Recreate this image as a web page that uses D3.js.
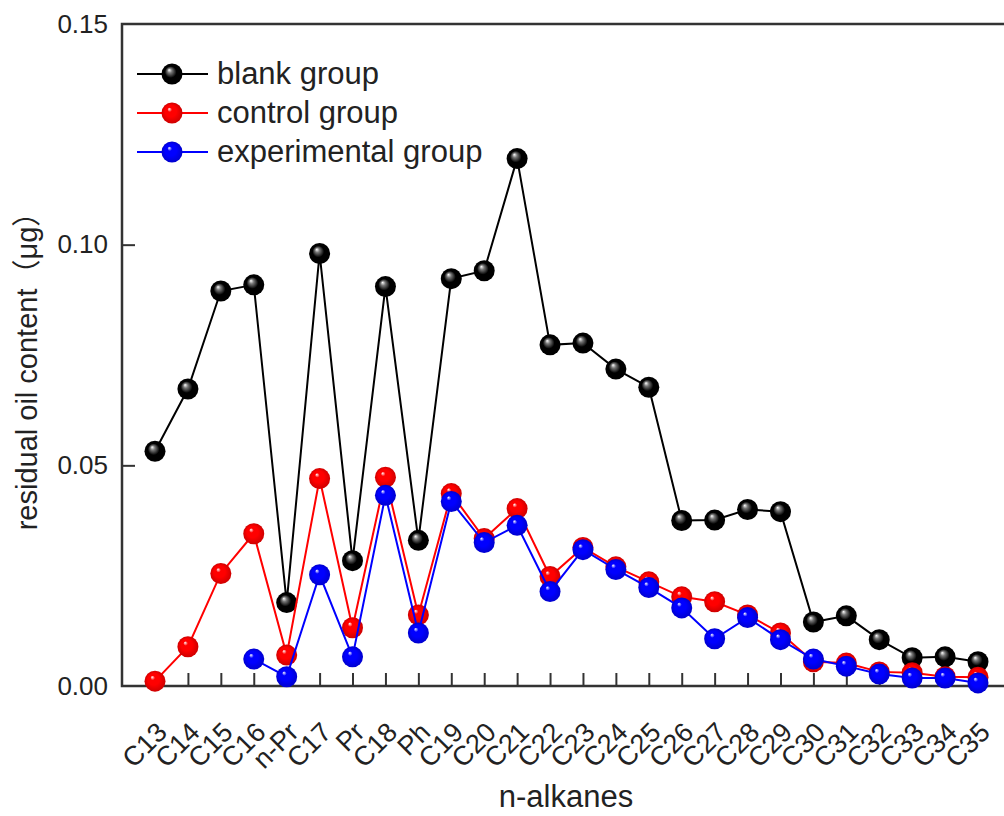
<!DOCTYPE html>
<html>
<head>
<meta charset="utf-8">
<script src="https://cdn.jsdelivr.net/npm/d3@7"></script>
<style>
  body { margin: 0; background: #fff; }
  text { font-family: "Liberation Sans", Arial, sans-serif; fill: #222; }
</style>
</head>
<body>
<svg id="chart" width="1004" height="816"></svg>
<script>
var categories = ["C13","C14","C15","C16","n-Pr","C17","Pr","C18","Ph","C19","C20","C21","C22","C23","C24","C25","C26","C27","C28","C29","C30","C31","C32","C33","C34","C35"];
var blankGroup = [0.0532,0.0673,0.0895,0.0909,0.0189,0.0980,0.0284,0.0905,0.0330,0.0923,0.0941,0.1195,0.0773,0.0777,0.0718,0.0677,0.0375,0.0376,0.0400,0.0395,0.0145,0.0159,0.0105,0.0064,0.0066,0.0055];
var controlGroup = [0.0011,0.0089,0.0255,0.0345,0.0070,0.0470,0.0132,0.0473,0.0161,0.0436,0.0334,0.0402,0.0248,0.0314,0.0270,0.0236,0.0202,0.0191,0.0161,0.0120,0.0055,0.0052,0.0032,0.0030,0.0021,0.0020];
var experimentalGroup = [null,null,null,0.0061,0.0021,0.0252,0.0066,0.0432,0.0120,0.0418,0.0325,0.0364,0.0214,0.0309,0.0264,0.0223,0.0177,0.0107,0.0155,0.0105,0.0061,0.0045,0.0027,0.0018,0.0018,0.0007];
var yTicks = [0, 0.05, 0.10, 0.15];
var seriesNames = ["blank group", "control group", "experimental group"];
var seriesColors = ["#000000", "#ff0000", "#0000ff"];

(function(){
  var series = [blankGroup, controlGroup, experimentalGroup].map(function(v, i){
    return {name: seriesNames[i], values: v, color: seriesColors[i]};
  });

  var svg = d3.select("#chart");
  var left = 122, plotTop = 24, bottom = 686, right = 1011;

  var x = d3.scalePoint().domain(categories).range([155, 978]);
  var y = d3.scaleLinear().domain([0, 0.15]).range([bottom, plotTop]);

  // shiny ball gradients
  var defs = svg.append("defs");
  series.forEach(function(s, i){
    var g = defs.append("radialGradient").attr("id", "ball" + i)
      .attr("cx", "50%").attr("cy", "50%").attr("r", "50%")
      .attr("fx", "36%").attr("fy", "30%");
    g.append("stop").attr("offset", "0%").attr("stop-color", "#fff");
    g.append("stop").attr("offset", "22%").attr("stop-color", i == 0 ? "#777" : s.color);
    g.append("stop").attr("offset", "55%").attr("stop-color", s.color);
    g.append("stop").attr("offset", "100%").attr("stop-color", i == 0 ? "#000" : d3.color(s.color).darker(0.6));
  });

  // frame
  svg.append("path")
    .attr("d", "M" + right + "," + plotTop + "H" + left + "V" + bottom + "H" + right)
    .attr("fill", "none").attr("stroke", "#333").attr("stroke-width", 2.5);

  // y axis
  var yAxis = d3.axisLeft(y).tickValues(yTicks).tickFormat(d3.format(".2f")).tickSize(-13).tickPadding(14);
  var ya = svg.append("g").attr("transform", "translate(" + left + ",0)").call(yAxis);
  ya.select(".domain").remove();
  ya.selectAll(".tick line").attr("stroke", "#333").attr("stroke-width", 2);
  ya.selectAll(".tick text").style("font-size", "26px").attr("fill", "#222");
  ya.selectAll(".tick").filter(function(d){ return d == 0 || d == 0.15; }).select("line").remove();

  // x axis
  var xAxis = d3.axisBottom(x).tickSize(-13).tickPadding(0);
  var xa = svg.append("g").attr("transform", "translate(0," + bottom + ")").call(xAxis);
  xa.select(".domain").remove();
  xa.selectAll(".tick line").attr("stroke", "#333").attr("stroke-width", 2);
  xa.selectAll(".tick text")
    .style("font-size", "27px").attr("fill", "#222")
    .attr("text-anchor", "end").attr("dy", null).attr("y", 0)
    .attr("transform", "translate(13,48) rotate(-45)");

  // lines and balls
  var line = d3.line()
    .defined(function(d){ return d != null; })
    .x(function(d, i){ return x(categories[i]); })
    .y(function(d){ return y(d); });

  series.forEach(function(s, i){
    var g = svg.append("g");
    g.append("path").datum(s.values)
      .attr("fill", "none").attr("stroke", s.color).attr("stroke-width", 2)
      .attr("d", line);
    g.selectAll("circle")
      .data(s.values.map(function(v, j){ return {v: v, c: categories[j]}; }).filter(function(d){ return d.v != null; }))
      .enter().append("circle")
      .attr("cx", function(d){ return x(d.c); })
      .attr("cy", function(d){ return y(d.v); })
      .attr("r", 10.5)
      .attr("fill", "url(#ball" + i + ")");
  });

  // legend
  var legend = svg.append("g");
  series.forEach(function(s, i){
    var ly = 74 + i * 39;
    legend.append("line").attr("x1", 137).attr("x2", 208).attr("y1", ly).attr("y2", ly)
      .attr("stroke", s.color).attr("stroke-width", 2);
    legend.append("circle").attr("cx", 172).attr("cy", ly).attr("r", 10.5).attr("fill", "url(#ball" + i + ")");
    legend.append("text").attr("x", 217).attr("y", ly + 10).style("font-size", "31px").text(s.name);
  });

  // axis titles
  svg.append("text").attr("x", 566).attr("y", 807).attr("text-anchor", "middle")
    .style("font-size", "31px").text("n-alkanes");
  var yt = svg.append("text").attr("transform", "translate(37,364) rotate(-90)").attr("text-anchor", "middle")
    .style("font-size", "29px");
  yt.append("tspan").text("residual oil content");
  yt.append("tspan").style("font-family", "'Noto Sans CJK SC'").text("（");
  yt.append("tspan").text("μg");
  yt.append("tspan").style("font-family", "'Noto Sans CJK SC'").text("）");
})();
</script>
</body>
</html>
